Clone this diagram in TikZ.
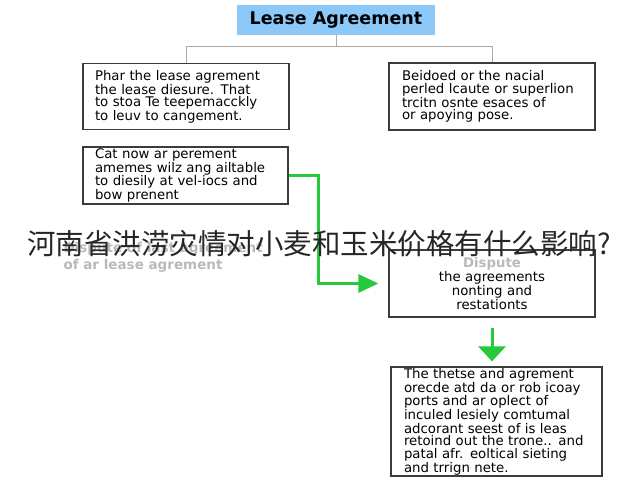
\documentclass[tikz,border=0pt]{standalone}
\usepackage{fontspec}
\setmainfont{DejaVu Sans}
\newfontfamily\cjk{Noto Sans CJK SC}
\usepackage{tikz}
\usetikzlibrary{calc}
\usetikzlibrary{arrows.meta}
\definecolor{titleblue}{RGB}{140,200,248}
\definecolor{flowgreen}{RGB}{40,200,60}
\definecolor{linegray}{RGB}{170,170,170}
\definecolor{boxgray}{RGB}{60,60,60}
\definecolor{fadegray}{RGB}{185,185,185}
\tikzset{%
  block/.style    = {draw=boxgray, line width=1.2pt, rectangle, inner sep=0pt,
    font=\fontsize{13.3}{12.3}\selectfont},
  textblock/.style = {block, align=left},
  midblock/.style  = {block, align=center},
  header/.style   = {rectangle, fill=titleblue, minimum width=198pt, minimum height=30pt,
    font=\bfseries\fontsize{17.5}{17.5}\selectfont},
  branch/.style   = {draw=linegray, line width=1pt},
  flow/.style     = {draw=flowgreen, line width=3pt},
  faded/.style    = {text=fadegray, font=\bfseries\fontsize{13.5}{13.5}\selectfont}
}
\begin{document}
\begin{tikzpicture}[x=1pt, y=-1pt]
        \useasboundingbox (0,0) rectangle (640,480);
        \draw
        node at(336,20)[header, name=Title]{Lease Agreement}
        node at(186,96.5)[textblock, name=Clause1, minimum width=206pt, minimum height=66pt, text width=182pt]
          {Phar the lease agrement\\the lease diesure. That\\to stoa Te teepemacckly\\to leuv to cangement.}
        node at(492,96.5)[textblock, name=Clause2, minimum width=206pt, minimum height=67pt, text width=180pt]
          {Beidoed or the nacial\\perled lcaute or superlion\\trcitn osnte esaces of\\or apoying pose.}
        node at(185.5,175.5)[textblock, name=Notice, minimum width=205pt, minimum height=57pt, text width=181pt]
          {Cat now ar perement\\amemes wilz ang ailtable\\to diesily at vel-iocs and\\bow prenent}
        node at(492,283.5)[midblock, name=Dispute, minimum width=206pt, minimum height=67pt, text width=190pt]
          {{\color{fadegray}\bfseries Dispute}\\the agreements\\nonting and\\restationts}
        node at(496.5,421.5)[textblock, name=Outcome, minimum width=211pt, minimum height=109pt, text width=185pt]
          {The thetse and agrement\\orecde atd da or rob icoay\\ports and ar oplect of\\inculed lesiely comtumal\\adcorant seest of is leas\\retoind out the trone.. and\\patal afr. eoltical sieting\\and trrign nete.};
        % tree lines from the title
        \coordinate (Split) at (336,46);
        \draw[branch] (Title.south) -- (Split);
        \draw[branch] (Split) -| (Clause1.north);
        \draw[branch] (Split) -| (Clause2.north);
        % green flow
        \draw[flow, -{Triangle[length=20pt, width=18pt]}, shorten >=10pt]
          (Notice.east) -- ++(30,0) |- (Dispute.west);
        \draw[flow, -{Triangle[length=15pt, width=27pt]}, shorten <=10pt, shorten >=5pt]
          (Dispute.south) -- (Dispute.south |- Outcome.north);
        % faded caption and overlay
        \node[faded, anchor=west] (Caption1) at (60,249) {Dispute of last agreement};
        \node[faded, anchor=west] (Caption2) at (60,266) {of ar lease agrement};
        \node[font=\cjk\fontsize{28.5}{28.5}\selectfont, text=black!85] (Overlay) at (319,244)
          {河南省洪涝灾情对小麦和玉米价格有什么影响?};
\end{tikzpicture}
\end{document}
